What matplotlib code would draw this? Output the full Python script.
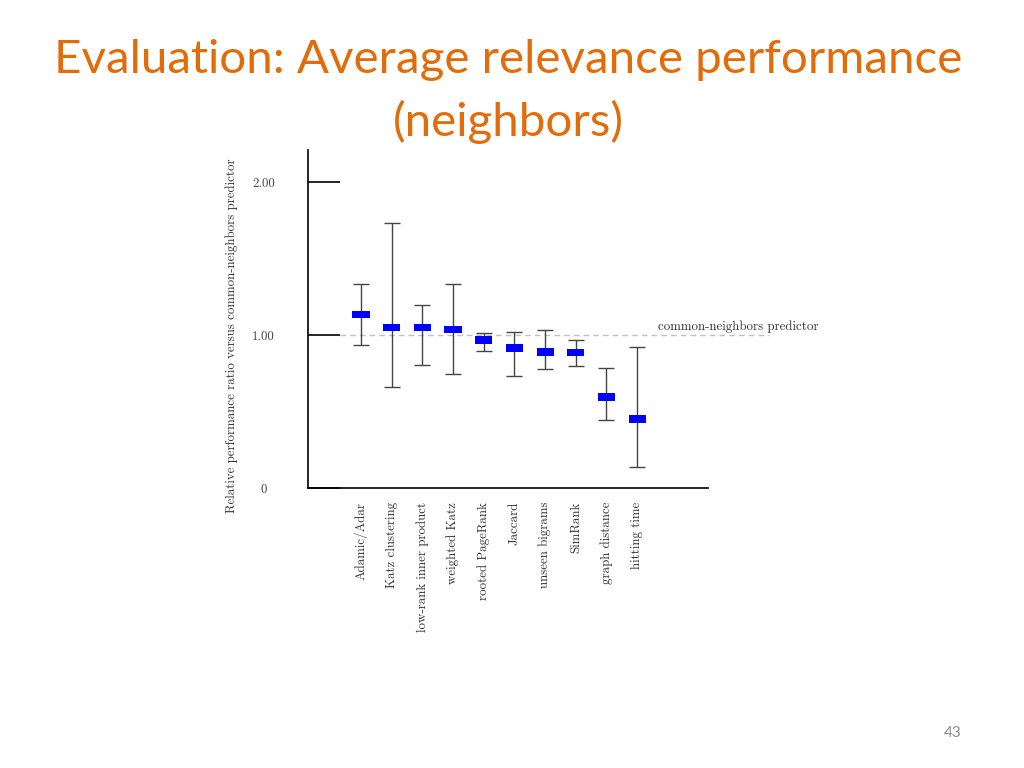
import matplotlib.pyplot as plt
import numpy as np

plt.rcParams['axes.formatter.use_mathtext'] = True

methods = ['Adamic/Adar', 'Katz clustering', 'low-rank inner product', 'weighted Katz',
           'rooted PageRank', 'Jaccard', 'unseen bigrams', 'SimRank',
           'graph distance', 'hitting time']
mean = [1.135, 1.048, 1.048, 1.035, 0.967, 0.915, 0.889, 0.887, 0.595, 0.451]
upper = [1.331, 1.730, 1.198, 1.331, 1.015, 1.022, 1.031, 0.967, 0.786, 0.919]
lower = [0.933, 0.660, 0.806, 0.743, 0.898, 0.730, 0.778, 0.799, 0.444, 0.137]
yticks = [0, 1.0, 2.0]
ytick_labels = ['0', '1.00', '2.00']

serif = 'cmr10'
fs = 9.3
W, H = 1024, 768

fig = plt.figure(figsize=(W / 100, H / 100), dpi=100)
ax = fig.add_axes([308 / W, 1 - 488 / H, 400 / W, 338 / H])

x = np.arange(len(methods))
mean = np.array(mean)
upper = np.array(upper)
lower = np.array(lower)

ax.errorbar(x, mean, yerr=[mean - lower, upper - mean], fmt='none',
            ecolor='#444444', elinewidth=1.0, capsize=5.8, capthick=1.0, zorder=2)
box_h = 0.048
ax.bar(x, box_h, bottom=mean - box_h / 2, width=0.56, color='#0000ff', zorder=3)

# reference line of common-neighbors predictor
ax.plot([-0.68, 13.3], [1.0, 1.0], ls=(0, (4, 3)), color='#c0c0c0', lw=1.0,
        clip_on=False, zorder=1)
ax.text(9.68, 1.052, 'common-neighbors predictor', family=serif, fontsize=fs,
        color='#333333', ha='left', va='center')

ax.set_xlim(-1.728, 11.31)
ax.set_ylim(0, 2.209)

ax.spines['top'].set_visible(False)
ax.spines['right'].set_visible(False)
for s in ['left', 'bottom']:
    ax.spines[s].set_linewidth(1.2)

ax.set_yticks(yticks)
ax.set_yticklabels(ytick_labels, family=serif, fontsize=fs, color='#444444', ha='center')
ax.tick_params(axis='y', direction='in', length=23, width=1.2, pad=32)

ax.set_xticks(x)
ax.set_xticklabels(methods, family=serif, fontsize=fs, color='#333333',
                   rotation=90, va='top', ha='center')
ax.tick_params(axis='x', length=0, pad=10)

fig.text(232 / W, 1 - 335.5 / H,
         'Relative performance ratio versus common-neighbors predictor',
         family=serif, fontsize=fs, color='#333333', rotation=90,
         ha='center', va='center')

title_color = '#E36C0A'
fig.text(508 / W, 1 - 60 / H, 'Evaluation: Average relevance performance',
         family='Lato', fontsize=34.2, color=title_color, ha='center', va='center')
fig.text(508 / W, 1 - 122 / H, '(neighbors)',
         family='Lato', fontsize=34.2, color=title_color, ha='center', va='center')

fig.text(953 / W, 1 - 733 / H, '43', family='Lato', fontsize=11,
         color='#8c8c8c', ha='center', va='center')

fig.savefig('out.png', dpi=100)
